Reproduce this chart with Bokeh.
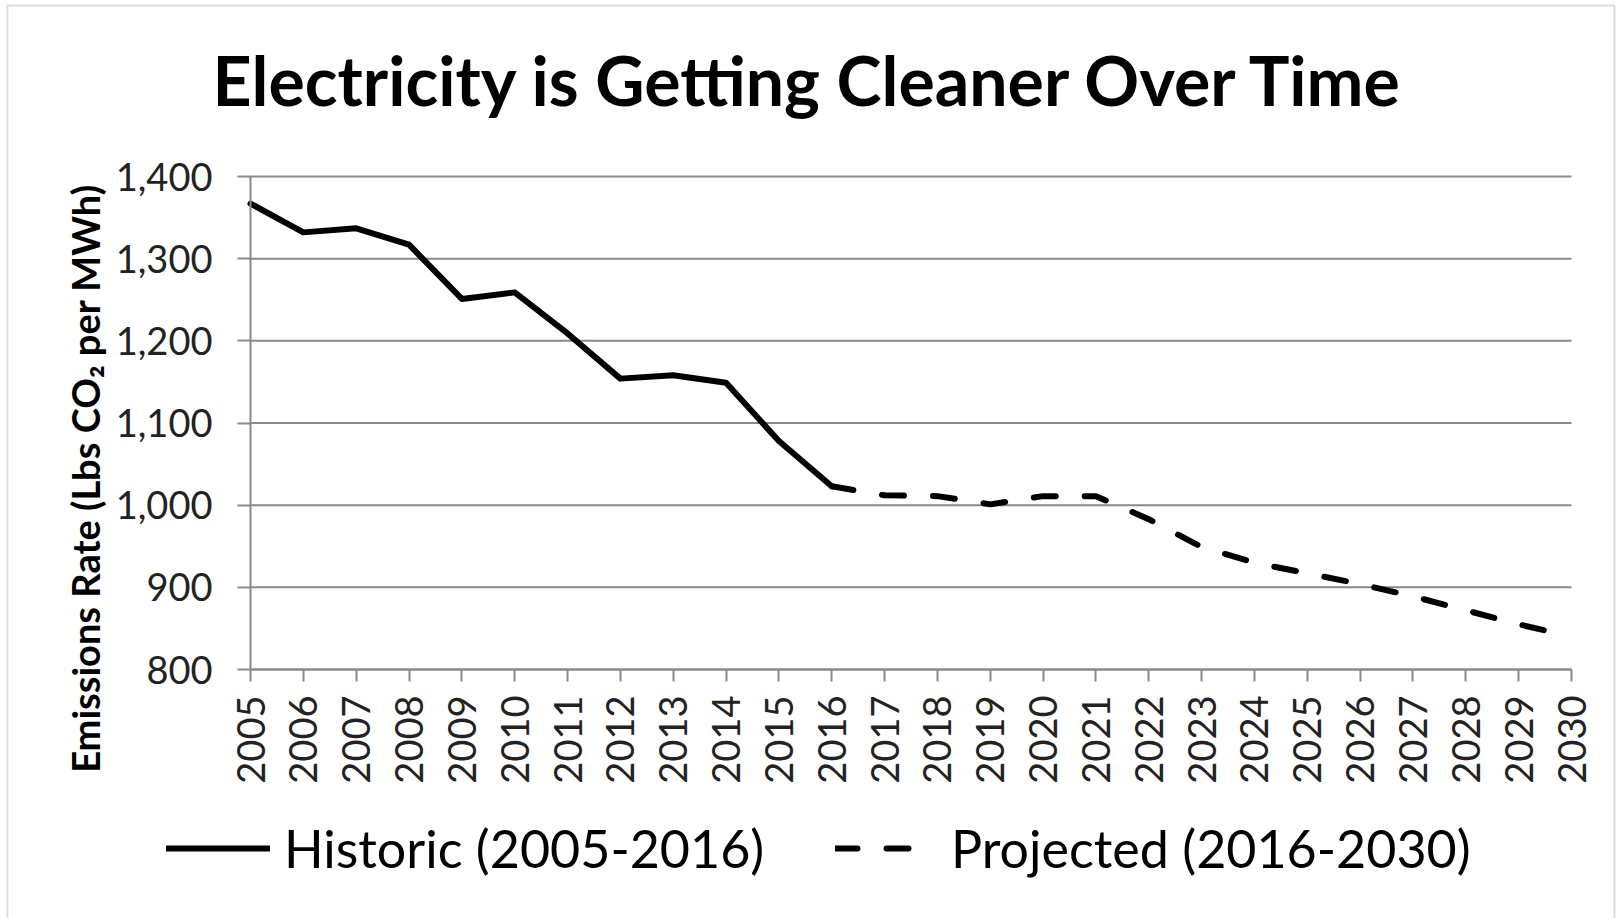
import math
from bokeh.plotting import figure
from bokeh.models import (Legend, LegendItem, Label, FixedTicker, NumeralTickFormatter,
                          Range1d, BoxAnnotation)
from bokeh.embed import file_html
from bokeh.resources import INLINE

# ---- data -------------------------------------------------------------
hist_years = [2005, 2006, 2007, 2008, 2009, 2010, 2011, 2012, 2013, 2014, 2015, 2016]
hist_values = [1367, 1332, 1337, 1317, 1251, 1259, 1209, 1154, 1158, 1149, 1078, 1023]

proj_years = [2016, 2017, 2018, 2019, 2020, 2021, 2022, 2023, 2024, 2025, 2026, 2027, 2028, 2029, 2030]
proj_values = [1023, 1012, 1011, 1001, 1011, 1011, 983, 949, 930, 917, 904, 889, 872, 855, 840]

x_ticks = list(range(2005, 2031))
y_ticks = [800, 900, 1000, 1100, 1200, 1300, 1400]

title_text = "Electricity is Getting Cleaner Over Time"
y_label = "Emissions Rate (Lbs CO\u2082 per MWh)"
hist_label = "Historic (2005-2016)"
proj_label = "Projected (2016-2030)"

# ---- layout (pixels) --------------------------------------------------
W, H = 1616, 918
PL, PR, PT, PB = 250, 1571, 176, 669     # plot-area box on the canvas
FONT = "Lato"
GRAY = "#8a8a8a"
TICK_COLOR = "#222222"

x0, x1 = x_ticks[0], x_ticks[-1]
y0, y1 = y_ticks[0], y_ticks[-1]
xpx = (x1 - x0) / (PR - PL)
ypx = (y1 - y0) / (PB - PT)
x_range = Range1d(x0 - PL * xpx, x1 + (W - PR) * xpx)
y_range = Range1d(y0 - (H - PB) * ypx, y1 + PT * ypx)

p = figure(width=W, height=H, output_backend="svg", toolbar_location=None,
           x_range=x_range, y_range=y_range, min_border=0)
p.outline_line_color = None
p.background_fill_color = "white"
p.border_fill_color = "white"
p.xgrid.visible = False
p.ygrid.visible = False

# x axis (drawn at the 800 line)
xa = p.xaxis[0]
xa.fixed_location = y0
xa.bounds = (x0, x1)
xa.ticker = FixedTicker(ticks=x_ticks)
xa.major_label_orientation = math.pi / 2
xa.major_label_text_font = FONT
xa.major_label_text_font_size = "38px"
xa.major_label_text_color = TICK_COLOR
xa.major_label_standoff = 14
xa.major_tick_out = 12
xa.major_tick_in = 0
xa.minor_tick_line_color = None
xa.axis_line_color = GRAY
xa.axis_line_width = 2
xa.major_tick_line_color = GRAY
xa.major_tick_line_width = 2

# y axis (drawn at 2005)
ya = p.yaxis[0]
ya.fixed_location = x0
ya.bounds = (y0, y1)
ya.ticker = FixedTicker(ticks=y_ticks)
ya.formatter = NumeralTickFormatter(format="0,0")
ya.major_label_text_font = FONT
ya.major_label_text_font_size = "38px"
ya.major_label_text_color = TICK_COLOR
ya.major_label_standoff = 25
ya.major_tick_out = 13
ya.major_tick_in = 0
ya.minor_tick_line_color = None
ya.axis_line_color = GRAY
ya.axis_line_width = 2
ya.major_tick_line_color = GRAY
ya.major_tick_line_width = 2

# horizontal gridlines at the y ticks, across the plot area
p.segment(x0=[x0] * len(y_ticks), x1=[x1] * len(y_ticks), y0=y_ticks, y1=y_ticks,
          line_color=GRAY, line_width=2)

# ---- lines ------------------------------------------------------------
r_hist = p.line(hist_years, hist_values, line_color="black", line_width=6,
                line_join="round", line_cap="round")
r_proj = p.line(proj_years, proj_values, line_color="black", line_width=6,
                line_dash="22 29", line_join="round", line_cap="round")

# ---- legends ----------------------------------------------------------
def make_legend(label, rend, loc, gw, standoff):
    return Legend(items=[LegendItem(label=label, renderers=[rend])], location=loc,
                  orientation="horizontal", glyph_width=gw, glyph_height=40,
                  label_standoff=standoff, label_text_font=FONT, label_text_font_size="52px",
                  label_text_color="black", padding=0, margin=0, spacing=0,
                  border_line_color=None, background_fill_alpha=0)

LEG_Y = 39
p.add_layout(make_legend(hist_label, r_hist, (166, LEG_Y), 104, 14))
p.add_layout(make_legend(proj_label, r_proj, (835, LEG_Y), 80, 36))

# ---- title and y-axis label ---------------------------------------------
p.add_layout(Label(x=809, y=H - 79, x_units="screen", y_units="screen", text=title_text,
                   text_align="center", text_baseline="alphabetic",
                   text_font=FONT, text_font_size="68px", text_font_style="bold",
                   text_color="black"))
p.add_layout(Label(x=84, y=H - 478, x_units="screen", y_units="screen", text=y_label,
                   angle=math.pi / 2, text_align="center", text_baseline="alphabetic",
                   text_font=FONT, text_font_size="38px", text_font_style="bold",
                   text_color="black"))

# ---- chart border -----------------------------------------------------
p.add_layout(BoxAnnotation(left=7, right=W - 2, top=H - 5, bottom=-20,
                           left_units="screen", right_units="screen",
                           top_units="screen", bottom_units="screen",
                           fill_alpha=0, line_color=GRAY, line_width=2))

open("out.html", "w").write(file_html(p, INLINE))
